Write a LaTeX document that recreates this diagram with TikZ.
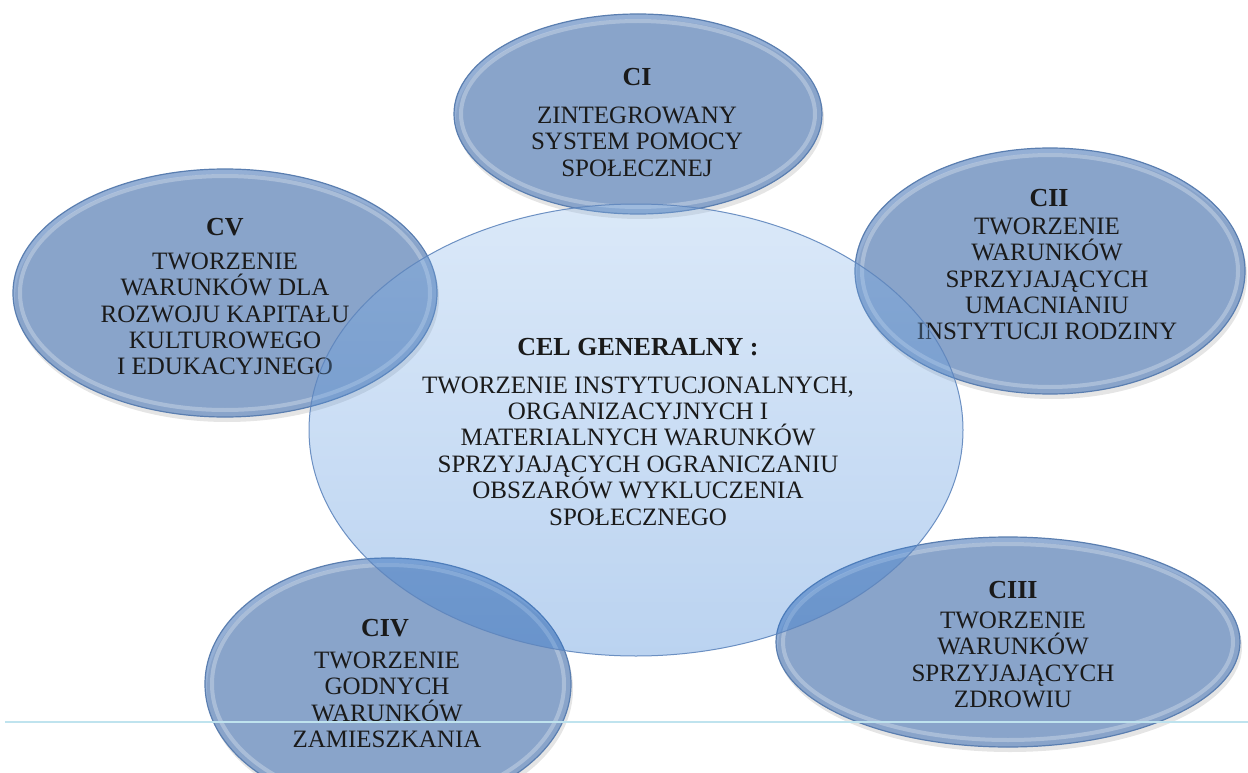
\documentclass[tikz,border=0pt]{standalone}
\usepackage{fontspec}
\setmainfont{Liberation Serif}
\usetikzlibrary{shapes.geometric}
\definecolor{outerfill}{HTML}{4473B6}
\definecolor{outeredge}{HTML}{5A7EB0}
\definecolor{ctop}{HTML}{87B6EB}
\definecolor{cbot}{HTML}{1F6FD0}
\definecolor{cedge}{HTML}{5F86BD}
\definecolor{txt}{HTML}{1A1A1A}
\definecolor{rulecol}{HTML}{BFE3EE}
\begin{document}
\begin{tikzpicture}[x=1pt,y=-1pt,
  goal/.style={ellipse, inner sep=0pt, fill=outerfill, fill opacity=0.57, draw=outeredge, line width=1.2pt},
  rim/.style={draw=white, draw opacity=0.28, line width=4pt},
  shadowed/.style={fill=black, fill opacity=0.10},
  core/.style={ellipse, inner sep=0pt, top color=ctop, bottom color=cbot, fill opacity=0.3, draw=cedge, draw opacity=0.9, line width=1pt},
  title/.style={font=\fontsize{26}{28}\selectfont\bfseries, text=txt, inner sep=0pt},
  body/.style={font=\fontsize{25}{26.4}\selectfont, text=txt, align=center, inner sep=0pt}]
\useasboundingbox (0,0) rectangle (1248,773);
\fill[white] (0,0) rectangle (1248,773);

% soft shadows
\fill[shadowed] (640,119) ellipse [x radius=184, y radius=100];
\fill[shadowed] (1052,276) ellipse [x radius=195, y radius=123];
\fill[shadowed] (1010,647) ellipse [x radius=232, y radius=105];
\fill[shadowed] (390,689) ellipse [x radius=183, y radius=126];
\fill[shadowed] (227,298) ellipse [x radius=212, y radius=124];

% outer goal ellipses
\node[goal, minimum width=368pt, minimum height=200pt] (ci) at (638,114) {};
\node[goal, minimum width=390pt, minimum height=246pt] (cii) at (1050,271) {};
\node[goal, minimum width=464pt, minimum height=210pt] (ciii) at (1008,642) {};
\node[goal, minimum width=366pt, minimum height=252pt] (civ) at (388,684) {};
\node[goal, minimum width=424pt, minimum height=248pt] (cv) at (225,293) {};

% bevel highlights
\draw[rim] (ci.center) ellipse [x radius=177, y radius=93];
\draw[rim] (cii.center) ellipse [x radius=188, y radius=116];
\draw[rim] (ciii.center) ellipse [x radius=225, y radius=98];
\draw[rim] (civ.center) ellipse [x radius=176, y radius=119];
\draw[rim] (cv.center) ellipse [x radius=205, y radius=117];

% outer texts
\node[title] (ciT) at (637,77) {CI};
\node[body] (ciB) at (637,141.5) {ZINTEGROWANY\\SYSTEM POMOCY\\SPOŁECZNEJ};

\node[title] (ciiT) at (1049,198) {CII};
\node[body] (ciiB) at (1047,279) {TWORZENIE\\WARUNKÓW\\SPRZYJAJĄCYCH\\UMACNIANIU\\INSTYTUCJI RODZINY};

\node[title] (ciiiT) at (1013,590) {CIII};
\node[body] (ciiiB) at (1013,660) {TWORZENIE\\WARUNKÓW\\SPRZYJAJĄCYCH\\ZDROWIU};

\node[title] (civT) at (385,628) {CIV};
\node[body] (civB) at (387,700) {TWORZENIE\\GODNYCH\\WARUNKÓW\\ZAMIESZKANIA};

\node[title] (cvT) at (225,227) {CV};
\node[body] (cvB) at (225,314) {TWORZENIE\\WARUNKÓW DLA\\ROZWOJU KAPITAŁU\\KULTUROWEGO\\I EDUKACYJNEGO};

% central goal
\node[core, minimum width=654pt, minimum height=452pt] (cel) at (636,430) {};
\node[title] (celT) at (638,347) {CEL GENERALNY :};
\node[body] (celB) at (638,451) {TWORZENIE INSTYTUCJONALNYCH,\\ORGANIZACYJNYCH I\\MATERIALNYCH WARUNKÓW\\SPRZYJAJĄCYCH OGRANICZANIU\\OBSZARÓW WYKLUCZENIA\\SPOŁECZNEGO};

% thin horizontal rule
\coordinate (ruleL) at (5,722);
\coordinate (ruleR) at (1248,722);
\draw[rulecol, line width=1.6pt] (ruleL) -- (ruleR);
\end{tikzpicture}
\end{document}
